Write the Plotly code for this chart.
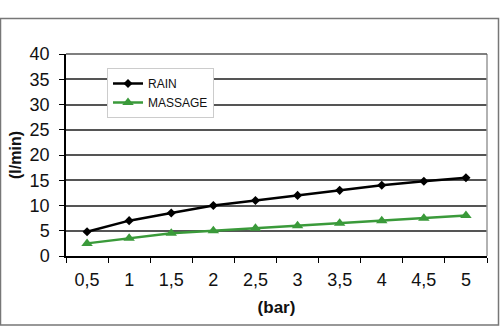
import plotly.graph_objects as go

# Flow rate per shower mode vs. water pressure
pressure_labels = ["0,5", "1", "1,5", "2", "2,5", "3", "3,5", "4", "4,5", "5"]
rain_flow = [4.8, 7.0, 8.5, 10.0, 11.0, 12.0, 13.0, 14.0, 14.8, 15.5]
massage_flow = [2.5, 3.5, 4.5, 5.0, 5.5, 6.0, 6.5, 7.0, 7.5, 8.0]

y_ticks = [0, 5, 10, 15, 20, 25, 30, 35, 40]

FONT = "Liberation Sans, Arial, sans-serif"

W, H = 500, 333
ML, MR, MT, MB = 66, 13, 54, 77
pw, ph = W - ML - MR, H - MT - MB

fig = go.Figure()
fig.add_trace(go.Scatter(
    x=pressure_labels, y=rain_flow, name="RAIN", mode="lines+markers",
    line=dict(color="#000000", width=2.5),
    marker=dict(symbol="diamond", size=7, color="#000000"),
))
fig.add_trace(go.Scatter(
    x=pressure_labels, y=massage_flow, name="MASSAGE", mode="lines+markers",
    line=dict(color="#3a9a3a", width=2.5),
    marker=dict(symbol="triangle-up", size=10, color="#3a9a3a"),
))


def px_x(v):
    return (v - ML) / pw


def px_y(v):
    return (H - MB - v) / ph


shapes = [
    # outer frame around the chart
    dict(type="rect", xref="paper", yref="paper",
         x0=px_x(0.5), x1=px_x(498.5), y0=px_y(325), y1=px_y(18.5),
         line=dict(color="#777777", width=1.5), fillcolor="rgba(0,0,0,0)", layer="below"),
    # right edge of the plot area
    dict(type="line", xref="paper", yref="paper", x0=1, x1=1, y0=0, y1=1,
         line=dict(color="#999999", width=1.5)),
    # top edge of the plot area
    dict(type="line", xref="paper", yref="paper", x0=0, x1=1, y0=1, y1=1,
         line=dict(color="#555555", width=1.5)),
]

fig.update_layout(
    width=W, height=H,
    margin=dict(l=ML, r=MR, t=MT, b=MB),
    paper_bgcolor="white", plot_bgcolor="white",
    font=dict(family=FONT, color="#111111"),
    showlegend=True,
    legend=dict(
        x=px_x(107), y=px_y(68), xanchor="left", yanchor="top",
        bgcolor="white", bordercolor="#cccccc", borderwidth=1,
        font=dict(family=FONT, size=12, color="#111111"),
        tracegroupgap=0, itemwidth=30,
    ),
    shapes=shapes,
    xaxis=dict(
        type="category", range=[-0.5, 9.5],
        tickson="boundaries", ticks="outside", ticklen=5, tickcolor="#000000",
        showline=True, linecolor="#000000", linewidth=1.5,
        showgrid=False, zeroline=False,
        ticklabelstandoff=7,
        tickfont=dict(family=FONT, size=18, color="#111111"),
        title=dict(text="<b>(bar)</b>", font=dict(family=FONT, size=17), standoff=12),
    ),
    yaxis=dict(
        range=[0, 40], tickvals=y_ticks,
        ticks="outside", ticklen=5, tickcolor="#000000",
        showline=True, linecolor="#000000", linewidth=1.5,
        showgrid=True, gridcolor="#555555", gridwidth=1.5,
        zeroline=False,
        ticklabelstandoff=6,
        tickfont=dict(family=FONT, size=18, color="#111111"),
        title=dict(text="<b>(l/min)</b>", font=dict(family=FONT, size=16), standoff=4),
    ),
)

fig.write_html("out.html")
